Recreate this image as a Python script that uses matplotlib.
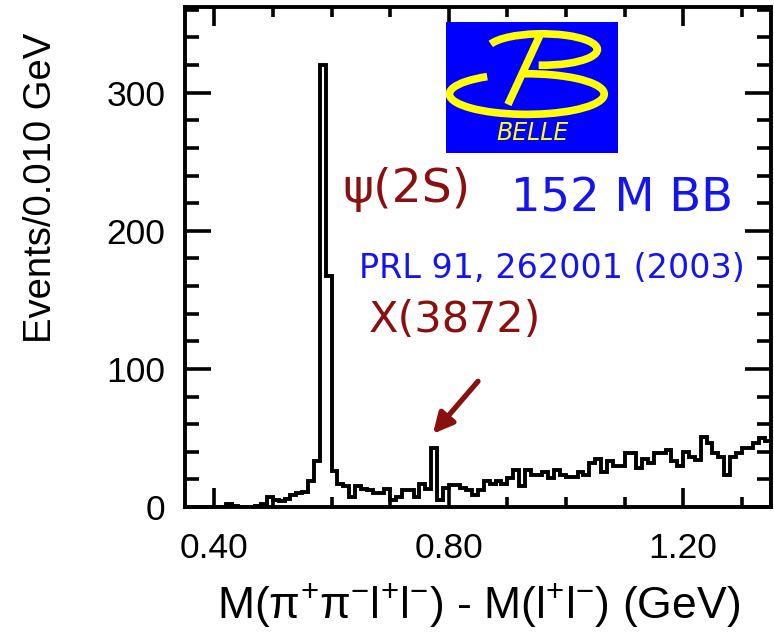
import numpy as np
import matplotlib
matplotlib.use("Agg")
import matplotlib.pyplot as plt
from matplotlib.patches import Arc, Rectangle
from matplotlib.ticker import MultipleLocator

# bin edges 0.35 .. 1.35 GeV, 0.010 GeV wide
bin_lo = 0.35
bin_width = 0.01
counts = [
    0, 0, 0, 0, 0, 0, 0, 2, 1, 0,          # 0.35-0.44
    0, 0, 1, 2, 7, 5, 4, 6, 9, 10,         # 0.45-0.54
    11, 19, 33, 320, 167, 26, 17, 15, 7, 15,  # 0.55-0.64
    13, 12, 10, 10, 13, 5, 7, 12, 12, 7,   # 0.65-0.74
    17, 13, 43, 5, 14, 16, 16, 14, 12, 9,  # 0.75-0.84
    12, 19, 17, 19, 17, 21, 27, 15, 27, 23,  # 0.85-0.94
    23, 25, 21, 27, 23, 22, 22, 25, 23, 32,  # 0.95-1.04
    35, 25, 33, 30, 30, 39, 39, 28, 35, 32,  # 1.05-1.14
    39, 39, 41, 33, 30, 40, 36, 34, 51, 46,  # 1.15-1.24
    39, 36, 23, 36, 39, 43, 43, 46, 50, 48,  # 1.25-1.34
]
x_ticks = [0.40, 0.80, 1.20]
x_tick_labels = ["0.40", "0.80", "1.20"]
y_ticks = [0, 100, 200, 300]

DARK_RED = "#8a1010"
BLUE = "#1414f0"
W, H = 774, 636


def fig_xy(px, py):
    return px / W, 1 - py / H


edges = bin_lo + bin_width * np.arange(len(counts) + 1)

fig = plt.figure(figsize=(W / 100, H / 100), dpi=100)
ax = fig.add_axes([185 / W, 1 - 507 / H, (771 - 185) / W, 500 / H])

ax.stairs(counts, edges, color="black", lw=2.8, baseline=0)
ax.set_xlim(0.35, 1.35)
ax.set_ylim(0, 362)

ax.xaxis.set_major_locator(plt.FixedLocator(x_ticks))
ax.xaxis.set_minor_locator(MultipleLocator(0.1))
ax.set_xticklabels(x_tick_labels)
ax.yaxis.set_major_locator(plt.FixedLocator(y_ticks))
ax.yaxis.set_minor_locator(MultipleLocator(20))

for side in ax.spines.values():
    side.set_linewidth(2.8)
ax.tick_params(which="both", direction="in", top=True, right=True, width=2.6)
ax.tick_params(axis="x", which="major", length=14, pad=18, labelsize=25.5)
ax.tick_params(axis="x", which="minor", length=7)
ax.tick_params(axis="y", which="major", length=19, pad=14, labelsize=25.5)
ax.tick_params(axis="y", which="minor", length=10)
for lab in ax.get_xticklabels() + ax.get_yticklabels():
    lab.set_family("Liberation Sans")

plt.rcParams["mathtext.fontset"] = "custom"
plt.rcParams["mathtext.rm"] = "Liberation Sans"
plt.rcParams["mathtext.it"] = "Liberation Sans:italic"

fig.text(*fig_xy(41, 188), "Events/0.010 GeV", rotation=90, ha="center", va="center",
         family="Liberation Sans", fontsize=27.5)
fig.text(*fig_xy(479, 605),
         r"M($\mathrm{\pi^{+}\pi^{-}l^{+}l^{-}}$) - M($\mathrm{l^{+}l^{-}}$) (GeV)",
         ha="center", va="center", family="Liberation Sans", fontsize=32)

# annotations
fig.text(*fig_xy(406, 190), "ψ(2S)", ha="center", va="center", color=DARK_RED,
         family="DejaVu Sans", fontsize=34)
fig.text(*fig_xy(622, 199), "152 M BB", ha="center", va="center", color=BLUE,
         family="DejaVu Sans", fontsize=33.5)
fig.text(*fig_xy(552, 268), "PRL 91, 262001 (2003)", ha="center", va="center", color=BLUE,
         family="DejaVu Sans", fontsize=24)
fig.text(*fig_xy(455, 320), "X(3872)", ha="center", va="center", color=DARK_RED,
         family="DejaVu Sans", fontsize=31)
ax.annotate("", xy=(0.773, 53), xytext=(0.85, 91),
            arrowprops=dict(arrowstyle="-|>", lw=3.8, color=DARK_RED, mutation_scale=30,
                            shrinkA=0, shrinkB=0))

# Belle logo
logo = fig.add_axes([446 / W, 1 - 153 / H, 172 / W, 131 / H])
logo.set_xlim(0, 1)
logo.set_ylim(0, 1)
logo.axis("off")
logo.add_patch(Rectangle((0, 0), 1, 1, color="#0000ff"))
yellow = "#ffff00"
logo.add_patch(Arc((0.47, 0.45), 0.90, 0.31, theta1=150, theta2=455, color=yellow, lw=5.5))
logo.add_patch(Arc((0.56, 0.79), 0.64, 0.24, theta1=-100, theta2=172, color=yellow, lw=5.5))
logo.plot([0.55, 0.36], [0.91, 0.37], color=yellow, lw=5.5, solid_capstyle="butt")
logo.text(0.5, 0.15, "BELLE", ha="center", va="center", color=yellow, fontsize=17,
          family="DejaVu Sans", style="italic", fontweight="light")

fig.savefig("out.png", dpi=100)
